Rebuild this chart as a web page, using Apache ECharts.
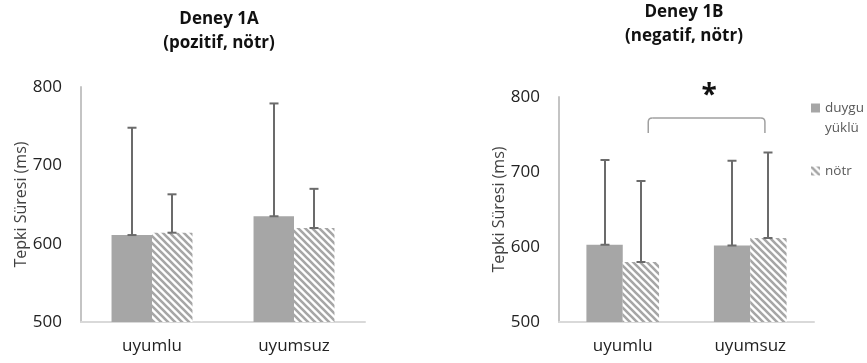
<!DOCTYPE html>
<html><head><meta charset="utf-8">
<script src="https://cdn.jsdelivr.net/npm/echarts@6/dist/echarts.min.js"></script>
<style>html,body{margin:0;padding:0;background:#fff}#c{width:867px;height:363px}</style>
</head><body><div id="c"></div>
<script>
// ---- data ----
const categories = ['uyumlu', 'uyumsuz'];
const seriesNames = ['duygu yüklü', 'nötr'];
const titleA = 'Deney 1A\n(pozitif, nötr)';
const titleB = 'Deney 1B\n(negatif, nötr)';
const yAxisName = 'Tepki Süresi (ms)';
const yTicks = [500, 600, 700, 800];
const aDuygu = [611, 635];
const aDuyguErr = [137, 144];
const aNotr = [614, 620];
const aNotrErr = [49, 50];
const bDuygu = [603, 602];
const bDuyguErr = [113, 113];
const bNotr = [580, 612];
const bNotrErr = [108, 114];
const sigMark = '*';
// bracket annotation for Deney 1B (category-axis coordinates / values)
const bracketFrom = 0.2, bracketTo = 1.115, bracketTop = 772, bracketEnd = 752;
const starPos = [0.677, 801];

// ---- styling ----
const FONT = 'Open Sans';
const BAR_FRAC = 0.285;
const GRAY = '#A6A6A6';
const ERR = '#6B6B6B';

function hatch() {
  const s = 7;
  const c = document.createElement('canvas');
  c.width = s; c.height = s;
  const g = c.getContext('2d');
  g.fillStyle = '#fff'; g.fillRect(0, 0, s, s);
  g.strokeStyle = GRAY; g.lineWidth = 2.6;
  g.beginPath();
  g.moveTo(-2, -2); g.lineTo(s + 2, s + 2);
  g.moveTo(-2, s - 2); g.lineTo(2, s + 2);
  g.moveTo(s - 2, -2); g.lineTo(s + 2, 2);
  g.stroke();
  return { image: c, repeat: 'repeat' };
}
const HATCH = hatch();

function errRender(side) {
  return function (params, api) {
    const idx = api.value(0), m = api.value(1), e = api.value(2);
    const w = api.size([1, 0])[0];
    const bw = w * BAR_FRAC;
    const p0 = api.coord([idx, m]);
    const p1 = api.coord([idx, m + e]);
    const x = Math.round(p0[0] + side * bw / 2);
    const cap = 4.5;
    const style = { stroke: ERR, lineWidth: 2, fill: null };
    return {
      type: 'group', children: [
        { type: 'line', shape: { x1: x, y1: p0[1], x2: x, y2: p1[1] }, style },
        { type: 'line', shape: { x1: x - cap, y1: p1[1], x2: x + cap, y2: p1[1] }, style },
        { type: 'line', shape: { x1: x - cap, y1: p0[1], x2: x + cap, y2: p0[1] }, style }
      ]
    };
  };
}

function errData(means, errs) { return means.map((m, i) => [i, m, errs[i]]); }

function yAxis(gi) {
  return {
    type: 'value', gridIndex: gi, min: yTicks[0], max: yTicks[yTicks.length - 1], interval: 100,
    name: yAxisName, nameLocation: 'middle', nameGap: 52,
    nameTextStyle: { fontFamily: FONT, fontSize: 16, color: '#404040' },
    axisLine: { show: true, lineStyle: { color: '#C4C4C4', width: 2 } },
    axisTick: { show: false }, splitLine: { show: false },
    axisLabel: { margin: 19, fontFamily: FONT, fontSize: 17, color: '#222' }
  };
}
function xAxis(gi) {
  return {
    type: 'category', gridIndex: gi, data: categories,
    axisLine: { lineStyle: { color: '#D9D9D9', width: 2 } },
    axisTick: { show: false },
    axisLabel: { margin: 16, fontFamily: FONT, fontSize: 17, color: '#222' }
  };
}
function barSeries(gi, name, data, color) {
  return {
    type: 'bar', name, xAxisIndex: gi, yAxisIndex: gi, data,
    barWidth: (BAR_FRAC * 100) + '%', barGap: '0%',
    itemStyle: { color }, emphasis: { disabled: true }
  };
}
function errSeries(gi, name, means, errs, side) {
  return {
    type: 'custom', name, xAxisIndex: gi, yAxisIndex: gi, z: 5,
    renderItem: errRender(side), data: errData(means, errs), silent: true
  };
}

const chart = echarts.init(document.getElementById('c'), null, { renderer: 'canvas' });
const legendText = { fontFamily: FONT, fontSize: 13.5, color: '#595959', lineHeight: 20 };
chart.setOption({
  animation: false,
  title: [
    { text: titleA, left: 219, top: 7, padding: 0, textAlign: 'center',
      textStyle: { fontFamily: FONT, fontWeight: 'bold', fontSize: 17, lineHeight: 24, color: '#111' } },
    { text: titleB, left: 684, top: 0, padding: 0, textAlign: 'center',
      textStyle: { fontFamily: FONT, fontWeight: 'bold', fontSize: 17, lineHeight: 24, color: '#111' } }
  ],
  legend: [
    { data: [seriesNames[0]], left: 806, top: 73, orient: 'vertical', itemWidth: 9, itemHeight: 9,
      icon: 'rect', formatter: () => '\nduygu\nyüklü',
      textStyle: legendText, selectedMode: false },
    { data: [seriesNames[1]], left: 806, top: 156, orient: 'vertical', itemWidth: 9, itemHeight: 9,
      icon: 'rect', textStyle: legendText, selectedMode: false }
  ],
  grid: [
    { left: 81, top: 87, width: 284, bottom: 41 },
    { left: 559, top: 97, width: 255, bottom: 41 }
  ],
  xAxis: [xAxis(0), xAxis(1)],
  yAxis: [yAxis(0), yAxis(1)],
  series: [
    barSeries(0, seriesNames[0], aDuygu, GRAY),
    barSeries(0, seriesNames[1], aNotr, HATCH),
    errSeries(0, seriesNames[0], aDuygu, aDuyguErr, -1),
    errSeries(0, seriesNames[1], aNotr, aNotrErr, 1),
    barSeries(1, seriesNames[0], bDuygu, GRAY),
    barSeries(1, seriesNames[1], bNotr, HATCH),
    errSeries(1, seriesNames[0], bDuygu, bDuyguErr, -1),
    errSeries(1, seriesNames[1], bNotr, bNotrErr, 1)
  ]
});

// significance bracket + star (positioned via axis scales)
function px(c, v) { return chart.convertToPixel({ xAxisIndex: 1, yAxisIndex: 1 }, [c, v]); }
const p0 = px(0, 0), p1 = px(1, 0);
const band = p1[0] - p0[0];
const bx1 = p0[0] + bracketFrom * band;
const bx2 = p0[0] + bracketTo * band;
const by1 = px(0, bracketTop)[1];
const by2 = px(0, bracketEnd)[1];
const r = 4;
const sx = p0[0] + starPos[0] * band;
const sy = px(0, starPos[1])[1];
const bStyle = { stroke: '#A0A0A0', lineWidth: 1.5, fill: null };
chart.setOption({
  graphic: [
    { type: 'group', children: [
      { type: 'line', shape: { x1: bx1, y1: by2, x2: bx1, y2: by1 + r }, style: bStyle },
      { type: 'bezierCurve', shape: { x1: bx1, y1: by1 + r, cpx1: bx1, cpy1: by1, x2: bx1 + r, y2: by1 }, style: bStyle },
      { type: 'line', shape: { x1: bx1 + r, y1: by1, x2: bx2 - r, y2: by1 }, style: bStyle },
      { type: 'bezierCurve', shape: { x1: bx2 - r, y1: by1, cpx1: bx2, cpy1: by1, x2: bx2, y2: by1 + r }, style: bStyle },
      { type: 'line', shape: { x1: bx2, y1: by1 + r, x2: bx2, y2: by2 }, style: bStyle }
    ] },
    { type: 'text', x: sx, y: sy, style: { text: sigMark, font: 'bold 28px "Open Sans"', fill: '#111',
      align: 'center', verticalAlign: 'middle' } }
  ]
});
</script></body></html>
